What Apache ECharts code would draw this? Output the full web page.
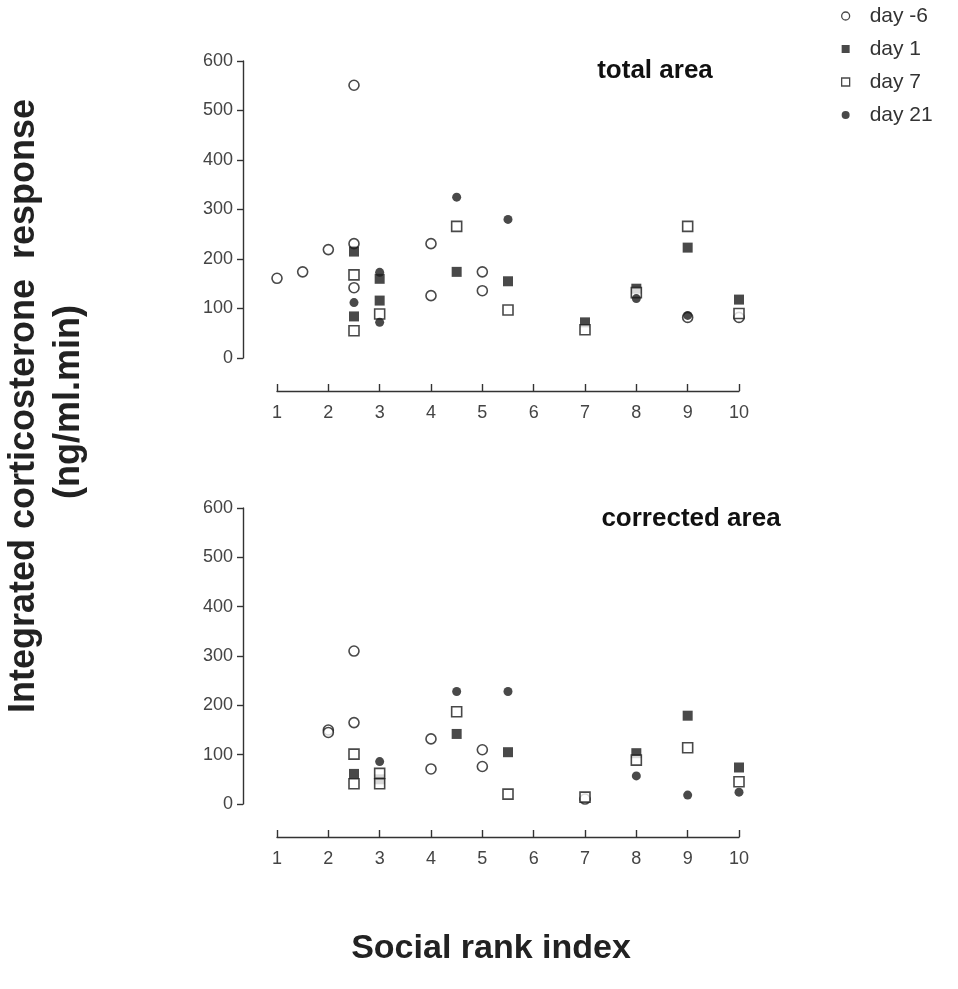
<!DOCTYPE html>
<html>
<head>
<meta charset="utf-8">
<script src="https://cdn.jsdelivr.net/npm/echarts@6/dist/echarts.min.js"></script>
<style>
  html, body { margin: 0; padding: 0; background: #fff; }
  #chart { width: 958px; height: 989px; }
</style>
</head>
<body>
<div id="chart"></div>
<script>
// Social rank index ticks and response axis ticks
const rankTicks = [1, 2, 3, 4, 5, 6, 7, 8, 9, 10];
const responseTicks = [0, 100, 200, 300, 400, 500, 600];

// Total area: [social rank index, integrated response]
const totalDayMinus6 = [[1, 161], [1.5, 174], [2, 219], [2.5, 551], [2.5, 231], [2.5, 142], [4, 231], [4, 126], [5, 174], [5, 136], [9, 82], [10, 82]];
const totalDay1 = [[2.5, 215], [2.5, 84], [3, 160], [3, 116], [4.5, 174], [5.5, 155], [7, 72], [8, 140], [9, 223], [10, 118]];
const totalDay7 = [[2.5, 168], [2.5, 55], [3, 89], [4.5, 266], [5.5, 97], [7, 57], [8, 132], [9, 266], [10, 90]];
const totalDay21 = [[2.5, 112], [3, 173], [3, 72], [4.5, 325], [5.5, 280], [8, 120], [9, 86]];

// Corrected area: [social rank index, integrated response]
const corrDayMinus6 = [[2, 150], [2, 145], [2.5, 310], [2.5, 165], [4, 132], [4, 71], [5, 110], [5, 76], [7, 10]];
const corrDay1 = [[2.5, 61], [3, 50], [4.5, 142], [5.5, 105], [8, 103], [9, 179], [10, 74]];
const corrDay7 = [[2.5, 101], [2.5, 41], [3, 62], [3, 41], [4.5, 187], [5.5, 20], [7, 14], [8, 89], [9, 114], [10, 45]];
const corrDay21 = [[3, 86], [4.5, 228], [5.5, 228], [8, 57], [9, 18], [10, 24]];

const seriesNames = ['day -6', 'day 1', 'day 7', 'day 21'];
const panelTitles = ['total area', 'corrected area'];

const FONT = '"Liberation Sans", Arial, Helvetica, sans-serif';
const INK = '#1c1c1c';

const markerStyles = {
  'day -6': { symbol: 'circle', symbolSize: 10, itemStyle: { color: '#fff', borderColor: INK, borderWidth: 1.6 } },
  'day 1':  { symbol: 'rect', symbolSize: 10, itemStyle: { color: INK, borderColor: INK, borderWidth: 0 } },
  'day 7':  { symbol: 'rect', symbolSize: 10, itemStyle: { color: '#fff', borderColor: INK, borderWidth: 1.6 } },
  'day 21': { symbol: 'circle', symbolSize: 9, itemStyle: { color: INK, borderColor: INK, borderWidth: 0 } }
};

const grids = [
  { left: 277, width: 462, top: 61, height: 297 },
  { left: 277, width: 462, top: 508, height: 296 }
];

function xAxisFor(i) {
  return {
    gridIndex: i, type: 'value', min: 1, max: 10, interval: 1,
    position: 'bottom', offset: 33,
    axisLine: { show: true, onZero: false, lineStyle: { color: '#333', width: 1.4 } },
    axisTick: { show: true, inside: true, length: 7, lineStyle: { color: '#333', width: 1.4 } },
    axisLabel: { color: '#444', fontSize: 18, fontFamily: FONT, margin: 13,
      formatter: v => rankTicks.includes(v) ? String(v) : '' },
    splitLine: { show: false }
  };
}

function yAxisFor(i) {
  return {
    gridIndex: i, type: 'value', min: responseTicks[0], max: responseTicks[responseTicks.length - 1], interval: 100,
    position: 'left', offset: 34,
    axisLine: { show: true, onZero: false, lineStyle: { color: '#333', width: 1.4 } },
    axisTick: { show: true, length: 6, lineStyle: { color: '#333', width: 1.4 } },
    axisLabel: { color: '#444', fontSize: 18, fontFamily: FONT, margin: 10 },
    splitLine: { show: false }
  };
}

const panelData = [
  [totalDayMinus6, totalDay1, totalDay7, totalDay21],
  [corrDayMinus6, corrDay1, corrDay7, corrDay21]
];

const series = [];
panelData.forEach((sets, p) => {
  sets.forEach((data, k) => {
    const name = seriesNames[k];
    series.push(Object.assign({
      name: name, type: 'scatter', xAxisIndex: p, yAxisIndex: p,
      data: data, z: 2 + k, animation: false
    }, JSON.parse(JSON.stringify(markerStyles[name]))));
  });
});

const chart = echarts.init(document.getElementById('chart'), null, { renderer: 'canvas' });
chart.setOption({
  backgroundColor: '#fff',
  animation: false,
  grid: grids,
  xAxis: [xAxisFor(0), xAxisFor(1)],
  yAxis: [yAxisFor(0), yAxisFor(1)],
  legend: {
    orient: 'vertical', left: 836, top: 0, itemGap: 11,
    itemWidth: 8, itemHeight: 8,
    textStyle: { fontSize: 21, fontFamily: FONT, color: '#333', padding: [0, 0, 0, 15], lineHeight: 22 },
    data: [
      { name: 'day -6', icon: 'circle', itemStyle: { color: '#fff', borderColor: INK, borderWidth: 1.3 } },
      { name: 'day 1', icon: 'rect' },
      { name: 'day 7', icon: 'rect', itemStyle: { color: '#fff', borderColor: INK, borderWidth: 1.3 } },
      { name: 'day 21', icon: 'circle' }
    ]
  },
  graphic: [
    { type: 'text', x: 655, y: 58, style: { text: panelTitles[0], font: 'bold 26px ' + FONT, fill: '#111', align: 'center', verticalAlign: 'top' } },
    { type: 'text', x: 691, y: 506, style: { text: panelTitles[1], font: 'bold 26px ' + FONT, fill: '#111', align: 'center', verticalAlign: 'top' } },
    { type: 'text', x: 6, y: 406, rotation: Math.PI / 2,
      style: { text: 'Integrated corticosterone  response', font: 'bold 36px ' + FONT, fill: '#222',
        align: 'center', verticalAlign: 'top' } },
    { type: 'text', x: 51, y: 402, rotation: Math.PI / 2,
      style: { text: '(ng/ml.min)', font: 'bold 36px ' + FONT, fill: '#222',
        align: 'center', verticalAlign: 'top' } },
    { type: 'text', x: 491, y: 932,
      style: { text: 'Social rank index', font: 'bold 34px ' + FONT, fill: '#222',
        align: 'center', verticalAlign: 'top' } }
  ],
  series: series
});
</script>
</body>
</html>
